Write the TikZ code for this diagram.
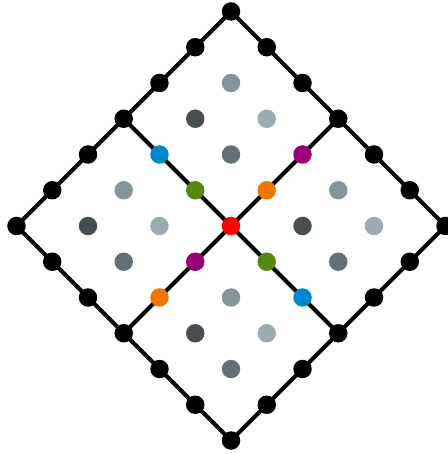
\documentclass[tikz,border=0pt]{standalone}
\usetikzlibrary{backgrounds}
\definecolor{cblue}{HTML}{0088CC}
\definecolor{cgreen}{HTML}{558811}
\definecolor{corange}{HTML}{EE7700}
\definecolor{cpurple}{HTML}{990077}
\definecolor{cred}{HTML}{FF0000}
\definecolor{gmed}{HTML}{85959C}
\definecolor{gdark}{HTML}{474E52}
\definecolor{glight}{HTML}{9AABB2}
\definecolor{gdarkish}{HTML}{637176}
\begin{document}
\begin{tikzpicture}[x=35.75pt,y=-35.75pt,
  dot/.style={circle,fill=#1,inner sep=0pt,minimum size=18.5pt},
  edgeline/.style={line width=4pt,black}]
\useasboundingbox (-6.4615,-6.3217) rectangle (6.0699,6.3776);
% corners and line ends
\node[dot=black] (T) at (0,-6) {};
\node[dot=black] (L) at (-6,0) {};
\node[dot=black] (B) at (0,6) {};
\node[dot=black] (R) at (6,0) {};
\node[dot=black] (TL) at (-3,-3) {};
\node[dot=black] (TR) at (3,-3) {};
\node[dot=black] (BL) at (-3,3) {};
\node[dot=black] (BR) at (3,3) {};
% other boundary points
\foreach \a/\b [count=\i] in {-1/-5,-2/-4,-4/-2,-5/-1,1/-5,2/-4,4/-2,5/-1,
  -1/5,-2/4,-4/2,-5/1,1/5,2/4,4/2,5/1}
  \node[dot=black] (b\i) at (\a,\b) {};
% coloured points on the diagonals
\node[dot=cred] (C) at (0,0) {};
\node[dot=cblue] (p1) at (-2,-2) {};
\node[dot=cgreen] (p2) at (-1,-1) {};
\node[dot=cgreen] (p3) at (1,1) {};
\node[dot=cblue] (p4) at (2,2) {};
\node[dot=cpurple] (q1) at (2,-2) {};
\node[dot=corange] (q2) at (1,-1) {};
\node[dot=cpurple] (q3) at (-1,1) {};
\node[dot=corange] (q4) at (-2,2) {};
% grey points in the four squares
\foreach \cx/\cy [count=\k] in {0/-3,-3/0,3/0,0/3}{
  \node[dot=gmed] (g\k a) at (\cx,\cy-1) {};
  \node[dot=gdark] (g\k b) at (\cx-1,\cy) {};
  \node[dot=glight] (g\k c) at (\cx+1,\cy) {};
  \node[dot=gdarkish] (g\k d) at (\cx,\cy+1) {};
}
\begin{scope}[on background layer]
\draw[edgeline] (T.center)--(L.center)--(B.center)--(R.center)--cycle;
\draw[edgeline] (TL.center)--(BR.center);
\draw[edgeline] (TR.center)--(BL.center);
\end{scope}
\end{tikzpicture}
\end{document}
